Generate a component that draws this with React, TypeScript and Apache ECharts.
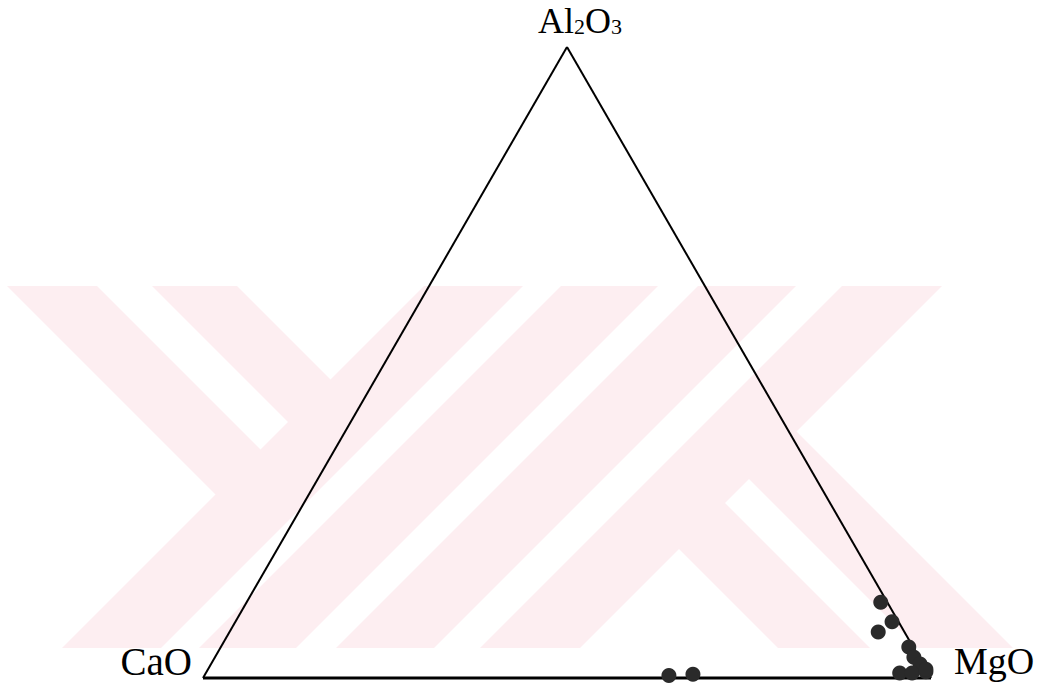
import React, { useEffect, useRef } from "react";
import * as echarts from "echarts";

// Ternary diagram CaO – MgO – Al2O3 (wt%)
const vertexNames = ["CaO", "MgO", "Al2O3"];

// Sample compositions, wt%
const caO = [0.9, 0.9, 3.6, 0.6, 0.7, 0.4, 3.9, 2.2, 0.2, 0.0, 35.8, 32.4];
const mgO = [87.1, 90.2, 89.1, 94.5, 96.0, 97.4, 95.3, 97.0, 98.8, 98.6, 63.8, 67.0];
const al2O3 = [12.0, 8.9, 7.3, 4.9, 3.3, 2.2, 0.8, 0.8, 1.0, 1.4, 0.4, 0.6];

const H = Math.sqrt(3) / 2;

// CaO at (0,0), MgO at (1,0), Al2O3 at (0.5, H)
function toXY(ca: number, mg: number, al: number): [number, number] {
  const s = ca + mg + al;
  return [(mg + al / 2) / s, (al / s) * H];
}

// Faint background stamp made of diagonal stripes
const STAMP_TOP = 286;
const STAMP_BOTTOM = 648;
const STAMP_COLOR = "#fdeef1";
// rising stripes: x + y between c1 and c2
const risingStripes: [number, number][] = [
  [710, 809],
  [847, 944],
  [984, 1082],
  [1128, 1228],
];
// falling stripes hanging from the top edge into the first rising stripe: y - x between d1 and d2
const fallingTop: [number, number][] = [
  [189, 279],
  [49, 134],
];
// falling stripes standing on the bottom edge, starting inside the last rising stripe
const fallingBottom: [number, number][] = [
  [-365, -270],
  [-222, -130],
];

function stampShapes() {
  const polys: number[][][] = [];
  for (const [c1, c2] of risingStripes) {
    polys.push([
      [c1 - STAMP_TOP, STAMP_TOP],
      [c2 - STAMP_TOP, STAMP_TOP],
      [c2 - STAMP_BOTTOM, STAMP_BOTTOM],
      [c1 - STAMP_BOTTOM, STAMP_BOTTOM],
    ]);
  }
  const cEnd = 720;
  for (const [d1, d2] of fallingTop) {
    polys.push([
      [STAMP_TOP - d2, STAMP_TOP],
      [STAMP_TOP - d1, STAMP_TOP],
      [(cEnd - d1) / 2, (cEnd + d1) / 2],
      [(cEnd - d2) / 2, (cEnd + d2) / 2],
    ]);
  }
  const cStart = 1220;
  for (const [d1, d2] of fallingBottom) {
    polys.push([
      [(cStart - d1) / 2, (cStart + d1) / 2],
      [(cStart - d2) / 2, (cStart + d2) / 2],
      [STAMP_BOTTOM - d2, STAMP_BOTTOM],
      [STAMP_BOTTOM - d1, STAMP_BOTTOM],
    ]);
  }
  return polys.map((points) => ({
    type: "polygon",
    z: 0,
    silent: true,
    shape: { points },
    style: { fill: STAMP_COLOR },
  }));
}

const FONT = '"Liberation Serif", "Times New Roman", serif';

export default function App() {
  const ref = useRef<HTMLDivElement>(null);

  useEffect(() => {
    if (!ref.current) return;
    const chart = echarts.init(ref.current, undefined, { renderer: "svg" });

    const points = caO.map((c, i) => toXY(c, mgO[i], al2O3[i]));
    const leftSide = [
      [0.5, H],
      [0, 0],
    ];
    const rightSide = [
      [1, 0],
      [0.5, H],
    ];
    const base = [
      [0, 0],
      [1, 0],
    ];

    chart.setOption({
      animation: false,
      backgroundColor: "#ffffff",
      grid: { left: 203, top: 47, width: 728, height: 631 },
      xAxis: { type: "value", min: 0, max: 1, show: false },
      yAxis: { type: "value", min: 0, max: H, show: false },
      graphic: [
        ...stampShapes(),
        {
          type: "text",
          z: 10,
          style: {
            text: vertexNames[0],
            x: 192,
            y: 661,
            align: "right",
            verticalAlign: "middle",
            font: `39px ${FONT}`,
            fill: "#000",
          },
        },
        {
          type: "text",
          z: 10,
          style: {
            text: vertexNames[1],
            x: 954,
            y: 661,
            align: "left",
            verticalAlign: "middle",
            font: `38px ${FONT}`,
            fill: "#000",
          },
        },
        {
          type: "text",
          z: 10,
          style: {
            text: "Al{sub|2}O{sub|3}",
            x: 580,
            y: 21,
            align: "center",
            verticalAlign: "middle",
            font: `36px ${FONT}`,
            fill: "#000",
            rich: {
              sub: {
                font: `22px ${FONT}`,
                verticalAlign: "bottom",
                padding: [0, 0, 2, 0],
              },
            },
          },
        },
      ],
      series: [
        {
          type: "line",
          data: leftSide,
          symbol: "none",
          clip: false,
          lineStyle: { color: "#000", width: 2 },
          z: 3,
        },
        {
          type: "line",
          data: rightSide,
          symbol: "none",
          clip: false,
          lineStyle: { color: "#000", width: 2 },
          z: 3,
        },
        {
          type: "line",
          data: base,
          symbol: "none",
          clip: false,
          lineStyle: { color: "#000", width: 3 },
          z: 3,
        },
        {
          type: "scatter",
          data: points,
          symbol: "circle",
          symbolSize: 15,
          clip: false,
          itemStyle: { color: "#2a2a2a", opacity: 1 },
          z: 5,
        },
      ],
    });

    return () => chart.dispose();
  }, []);

  return (
    <div
      ref={ref}
      style={{
        position: "absolute",
        left: 0,
        top: 0,
        width: 1038,
        height: 693,
        background: "#fff",
      }}
    />
  );
}
